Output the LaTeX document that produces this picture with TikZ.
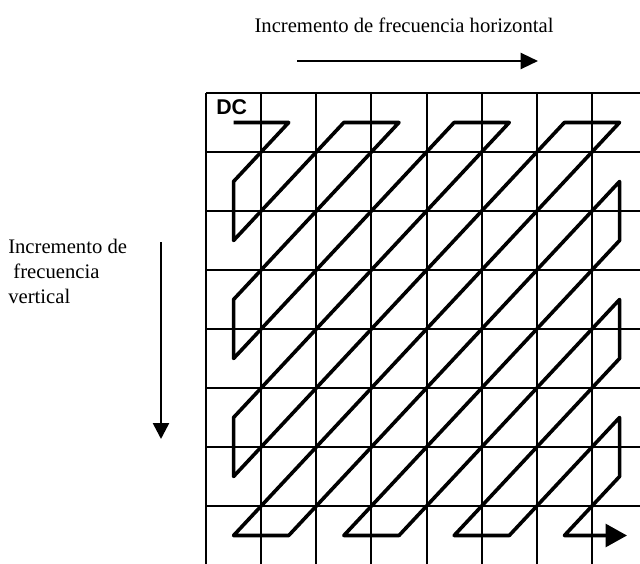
\documentclass[tikz,border=0pt]{standalone}
\usepackage{fontspec}
\setmainfont{Liberation Serif}
\setsansfont{Liberation Sans}
\usetikzlibrary{arrows.meta}

\begin{document}
\begin{tikzpicture}[x=0.75pt, y=-0.75pt]
  \useasboundingbox (0,0) rectangle (640,564);

  \foreach \i in {0,...,7}
    \draw[line width=1.5pt] ({206+55.14*\i},93) -- ({206+55.14*\i},564);
  \foreach \j in {0,...,7}
    \draw[line width=1.5pt] (206,{93+59*\j}) -- (640,{93+59*\j});

  \foreach \i in {0,...,7}
    \foreach \j in {0,...,7}
      \coordinate (p-\i-\j) at ({206+55.14*(\i+0.5)},{93+59*(\j+0.5)});
  \coordinate (end) at (627,{93+59*7.5});

  \node[font=\sffamily\bfseries\fontsize{16}{16}\selectfont, anchor=base west, inner sep=0] (dc) at (216,114) {DC};

  \draw[line width=2.7pt, line join=round, -{Triangle[length=16pt, width=17pt]}]
    (p-0-0) -- (p-1-0) -- (p-0-1) -- (p-0-2) -- (p-2-0) -- (p-3-0) -- (p-0-3)
    -- (p-0-4) -- (p-4-0) -- (p-5-0) -- (p-0-5) -- (p-0-6) -- (p-6-0) -- (p-7-0)
    -- (p-0-7) -- (p-1-7) -- (p-7-1) -- (p-7-2) -- (p-2-7) -- (p-3-7) -- (p-7-3)
    -- (p-7-4) -- (p-4-7) -- (p-5-7) -- (p-7-5) -- (p-7-6) -- (p-6-7) -- (end);

  \node[font=\fontsize{15.5}{18.75}\selectfont, anchor=base, inner sep=0] (htext) at (404,32) {Incremento de frecuencia horizontal};
  \coordinate (hstart) at (297,61);
  \coordinate (hend) at (538,61);
  \draw[line width=1.7pt, -{Triangle[length=13pt, width=12pt]}] (hstart) -- (hend);

  \node[font=\fontsize{15.5}{18.75}\selectfont, align=left, anchor=north west, inner sep=0] (vtext) at (8,239) {Incremento de\\\ frecuencia\\vertical};
  \coordinate (vstart) at (161,242);
  \coordinate (vend) at (161,439);
  \draw[line width=1.9pt, -{Triangle[length=12pt, width=12pt]}] (vstart) -- (vend);
\end{tikzpicture}
\end{document}
